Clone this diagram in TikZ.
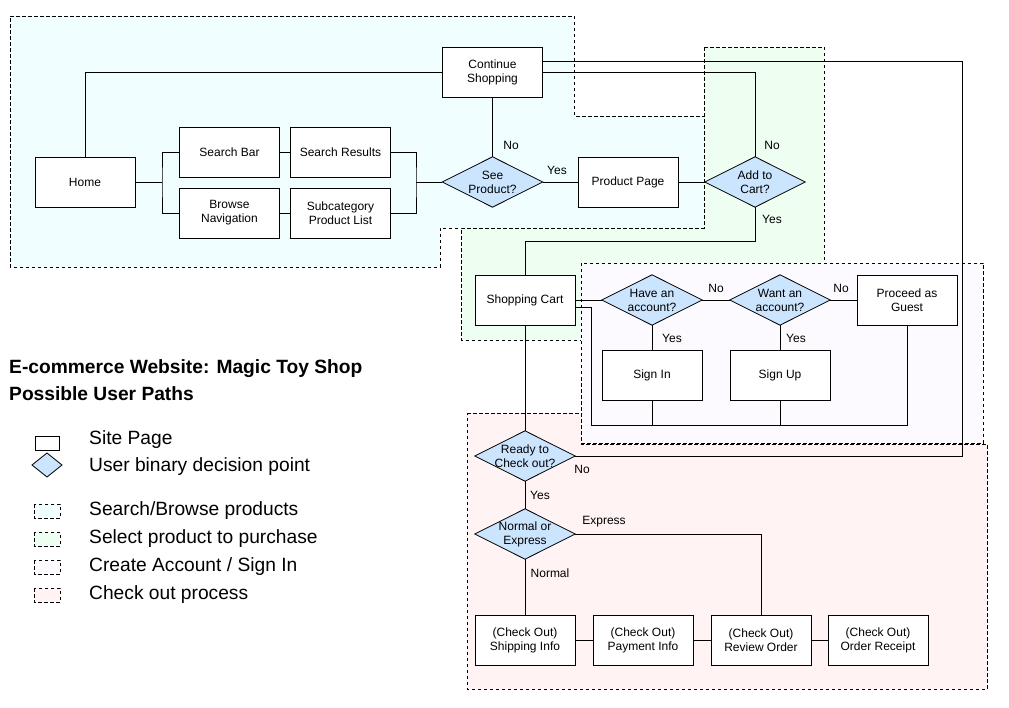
\documentclass[tikz,border=0pt]{standalone}
\usepackage{fontspec}
\setmainfont{Liberation Sans}
\usetikzlibrary{calc}
\pgfdeclarelayer{regions}
\pgfdeclarelayer{shapes}
\pgfsetlayers{regions,shapes,main}
\definecolor{rblue}{HTML}{F0FEFF}
\definecolor{rgreen}{HTML}{EEFEF1}
\definecolor{rpurple}{HTML}{FDFAFF}
\definecolor{rred}{HTML}{FFF3F3}
\definecolor{dfill}{HTML}{CCE5FF}
\begin{document}
\begin{tikzpicture}[x=1pt,y=-1pt,
  every node/.style={font=\fontsize{12}{14}\selectfont},
  page/.style={draw, line width=0.8pt, fill=white, minimum width=100pt, minimum height=50pt, inner sep=0pt, align=center},
  dia/.style={rectangle, minimum width=100pt, minimum height=50pt, inner sep=0pt, align=center},
  conn/.style={line width=0.8pt},
  region/.style={draw, line width=0.7pt, dash pattern=on 3.5pt off 2.5pt},
  lbl/.style={inner sep=0pt},
  legtext/.style={anchor=west, inner sep=0pt, font=\fontsize{19.2}{22}\selectfont},
  title/.style={anchor=west, inner sep=0pt, font=\fontsize{19.2}{22}\selectfont\bfseries}
]
\useasboundingbox (0,0) rectangle (1009,708);

% regions
\begin{pgfonlayer}{regions}
\path[region, fill=rblue] (10,16) -- (574,16) -- (574,116) -- (704,116) -- (704,228) -- (440,228) -- (440,267) -- (10,267) -- cycle;
\path[region, fill=rgreen] (704,47) -- (824,47) -- (824,263) -- (581,263) -- (581,340) -- (461,340) -- (461,228) -- (704,228) -- cycle;
\path[region, fill=rpurple] (581,263) rectangle (983,443);
\path[region, fill=rred] (467,413) -- (581,413) -- (581,444) -- (987,444) -- (987,689) -- (467,689) -- cycle;
\end{pgfonlayer}

% pages
\node[page] (home) at (85,182) {Home};
\node[page] (sbar) at (229.5,152) {Search Bar};
\node[page] (sres) at (340.5,152) {Search Results};
\node[page] (browse) at (229.5,213) {Browse\\Navigation};
\node[page] (subcat) at (340.5,213) {Subcategory\\Product List};
\node[page] (cont) at (492.5,72) {Continue\\Shopping};
\node[page] (prod) at (628,182) {Product Page};
\node[page] (cart) at (525,300) {Shopping Cart};
\node[page] (guest) at (907,300) {Proceed as\\Guest};
\node[page] (signin) at (652,375) {Sign In};
\node[page] (signup) at (780,375) {Sign Up};
\node[page] (ship) at (525,640) {(Check Out)\\Shipping Info};
\node[page] (pay) at (643,640) {(Check Out)\\Payment Info};
\node[page] (review) at (761,640) {(Check Out)\\Review Order};
\node[page] (receipt) at (878,640) {(Check Out)\\Order Receipt};

% decisions
\node[dia] (see) at (492.5,182) {See\\Product?};
\node[dia] (add) at (755,182) {Add to\\Cart?};
\node[dia] (have) at (652,300) {Have an\\account?};
\node[dia] (want) at (780,300) {Want an\\account?};
\node[dia] (ready) at (525,456) {Ready to\\Check out?};
\node[dia] (norm) at (525,534) {Normal or\\Express};

\begin{pgfonlayer}{shapes}
\foreach \d in {see,add,have,want,ready,norm}
  \filldraw[line width=0.8pt, fill=dfill] (\d.north) -- (\d.east) -- (\d.south) -- (\d.west) -- cycle;
\end{pgfonlayer}

% coordinates
\coordinate (lfork) at (162,182);
\coordinate (rfork) at (416,182);
\coordinate (busL) at (591,425);
\coordinate (cs1) at (542.5,61);
\coordinate (cs2) at (542.5,72);

% connectors
\draw[conn] (home.north) |- (cont.west);
\draw[conn] (home.east) -- (lfork);
\draw[conn] (sbar.west) -| (lfork) |- (browse.west);
\draw[conn] (sbar) -- (sres);
\draw[conn] (browse) -- (subcat);
\draw[conn] (sres.east) -| (rfork) |- (subcat.east);
\draw[conn] (rfork) -- (see.west);
\draw[conn] (cont.south) -- (see.north);
\draw[conn] (see.east) -- (prod.west);
\draw[conn] (prod.east) -- (add.west);
\draw[conn] (cs2) -| (add.north);
\draw[conn] (cs1) -| (962,456) -- (ready.east);
\draw[conn] (add.south) |- (525,241) -- (cart.north);
\draw[conn] (cart.east) -- (have.west);
\draw[conn] (have.east) -- (want.west);
\draw[conn] (want.east) -- (guest.west);
\draw[conn] (have.south) -- (signin.north);
\draw[conn] (want.south) -- (signup.north);
\draw[conn] ($(cart.east)+(0,7)$) -| (busL) -| (guest.south);
\draw[conn] (signin.south) -- (signin.south |- busL);
\draw[conn] (signup.south) -- (signup.south |- busL);
\draw[conn] (cart.south) -- (ready.north);
\draw[conn] (ready.south) -- (norm.north);
\draw[conn] (norm.south) -- (ship.north);
\draw[conn] (norm.east) -| (review.north);
\draw[conn] (ship) -- (pay);
\draw[conn] (pay) -- (review);
\draw[conn] (review) -- (receipt);

% labels
\node[lbl] at (511,145) {No};
\node[lbl] at (557,170) {Yes};
\node[lbl] at (772,145) {No};
\node[lbl] at (772,219) {Yes};
\node[lbl] at (716,288) {No};
\node[lbl] at (841,288) {No};
\node[lbl] at (672,338) {Yes};
\node[lbl] at (796,338) {Yes};
\node[lbl] at (582,469) {No};
\node[lbl] at (540,495) {Yes};
\node[lbl] at (604,522) {Express};
\node[lbl] at (550,573) {Normal};

% legend
\node[title] (t1) at (9,369) {E-commerce Website: Magic Toy Shop};
\node[title] (t2) at (9,394) {Possible User Paths};
\draw[line width=0.8pt] (35,436) rectangle (59,450);
\filldraw[line width=0.8pt, fill=dfill] (32,465) -- (47,453) -- (62,465) -- (47,477) -- cycle;
\path[region, fill=rblue] (34,504) rectangle (60,518);
\path[region, fill=rgreen] (34,532) rectangle (60,546);
\path[region, fill=rpurple] (34,560) rectangle (60,574);
\path[region, fill=rred] (34,588) rectangle (60,602);
\node[legtext] (l1) at (89,440) {Site Page};
\node[legtext] (l2) at (89,467) {User binary decision point};
\node[legtext] (l3) at (89,511) {Search/Browse products};
\node[legtext] (l4) at (89,539) {Select product to purchase};
\node[legtext] (l5) at (89,567) {Create Account / Sign In};
\node[legtext] (l6) at (89,595) {Check out process};
\end{tikzpicture}
\end{document}
